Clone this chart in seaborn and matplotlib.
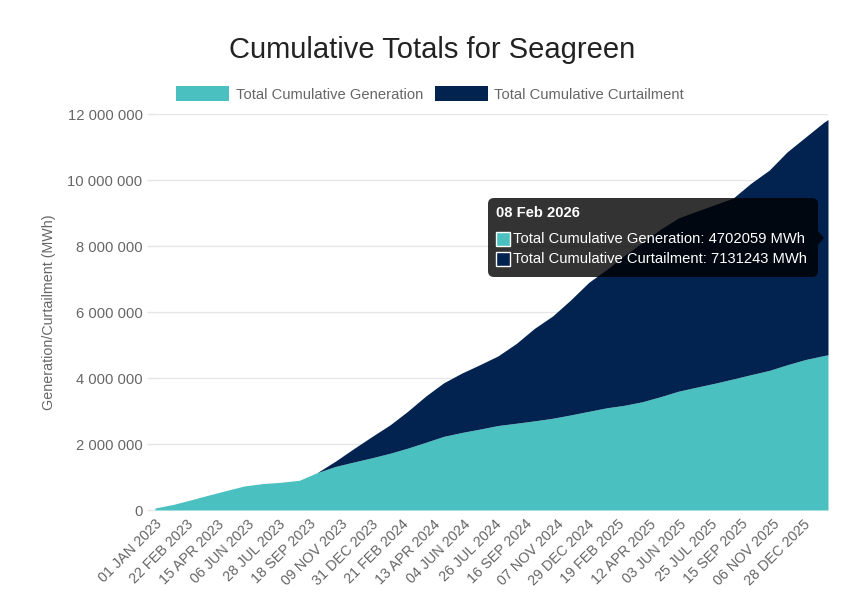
import matplotlib
matplotlib.use("Agg")
import matplotlib.pyplot as plt
import matplotlib.dates as mdates
from matplotlib.patches import FancyBboxPatch, Rectangle, Polygon
from matplotlib.transforms import IdentityTransform
from matplotlib.ticker import FuncFormatter
import seaborn as sns
import pandas as pd
import numpy as np

# ---------------- data ----------------
dates = ["2023-01-01", "2023-02-01", "2023-03-01", "2023-04-01", "2023-05-01", "2023-06-01",
         "2023-07-01", "2023-08-01", "2023-09-01", "2023-10-01", "2023-11-01", "2023-12-01",
         "2024-01-01", "2024-02-01", "2024-03-01", "2024-04-01", "2024-05-01", "2024-06-01",
         "2024-07-01", "2024-08-01", "2024-09-01", "2024-10-01", "2024-11-01", "2024-12-01",
         "2025-01-01", "2025-02-01", "2025-03-01", "2025-04-01", "2025-05-01", "2025-06-01",
         "2025-07-01", "2025-08-01", "2025-09-01", "2025-10-01", "2025-11-01", "2025-12-01",
         "2026-01-01", "2026-02-01", "2026-02-08"]

generation = [60000, 170000, 300000, 450000, 590000, 730000,
              800000, 840000, 900000, 1130000, 1320000, 1450000,
              1580000, 1720000, 1870000, 2050000, 2230000, 2350000,
              2450000, 2560000, 2630000, 2700000, 2780000, 2880000,
              2990000, 3100000, 3170000, 3280000, 3430000, 3600000,
              3720000, 3840000, 3970000, 4100000, 4230000, 4400000,
              4560000, 4680000, 4702059]

curtailment = [0, 0, 0, 0, 0, 0,
               0, 0, 0, 0, 160000, 400000,
               640000, 860000, 1110000, 1400000, 1620000, 1800000,
               1950000, 2110000, 2420000, 2800000, 3100000, 3480000,
               3910000, 4200000, 4530000, 4820000, 5070000, 5250000,
               5330000, 5410000, 5480000, 5800000, 6070000, 6450000,
               6740000, 7070000, 7131243]

series_labels = ["Total Cumulative Generation", "Total Cumulative Curtailment"]
title = "Cumulative Totals for Seagreen"
y_label = "Generation/Curtailment (MWh)"
tick_start = "2023-01-01"
tick_step_days = 52
n_ticks = 22
y_ticks = [0, 2000000, 4000000, 6000000, 8000000, 10000000, 12000000]
tooltip_date = "08 Feb 2026"

TEAL = "#4BC0C0"
NAVY = "#022350"
GREY = "#666666"
GRID = "#e6e6e6"

# ---------------- style ----------------
sns.set_theme(style="white")
plt.rcParams["font.family"] = ["Liberation Sans", "DejaVu Sans"]

W, H = 856, 612
fig = plt.figure(figsize=(W / 100, H / 100), dpi=100)
ax = fig.add_axes([155 / W, 1 - 510 / H, (828 - 155) / W, (510 - 114) / H])

df = pd.DataFrame({"date": pd.to_datetime(dates),
                   "generation": generation,
                   "curtailment": curtailment})
x = mdates.date2num(df["date"])

ax.stackplot(x, df["generation"], df["curtailment"],
             colors=[TEAL, NAVY], labels=series_labels, linewidth=0, zorder=2)

ax.set_xlim(x[0], x[-1])
ax.set_ylim(0, 12000000)

# y axis
ax.set_yticks(y_ticks)
ax.yaxis.set_major_formatter(FuncFormatter(lambda v, p: f"{int(v):,}".replace(",", " ")))
ax.grid(axis="y", color=GRID, linewidth=1, zorder=0)
ax.grid(axis="x", visible=False)
ax.tick_params(axis="y", which="major", left=True, length=6, width=1, color=GRID,
               pad=3, labelsize=10.6, labelcolor=GREY)
ax.set_ylabel(y_label, fontsize=10.3, color=GREY, labelpad=8)

# x axis
tick_dates = pd.date_range(tick_start, periods=n_ticks, freq=f"{tick_step_days}D")
ax.set_xticks(mdates.date2num(tick_dates))
ax.set_xticklabels([d.strftime("%d %b %Y").upper() for d in tick_dates],
                   rotation=45, ha="right", va="top", rotation_mode="anchor")
ax.tick_params(axis="x", bottom=False, length=0, pad=5, labelsize=10.4, labelcolor=GREY)

for s in ax.spines.values():
    s.set_visible(False)

ax.yaxis.set_label_coords(-0.147, 0.5)

# title & legend
fig.text(432 / W, 1 - 50 / H, title, ha="center", va="center",
         fontsize=21, color="#222222")
leg = fig.legend(loc="center", bbox_to_anchor=(430 / W, 1 - 94 / H), ncol=2,
                 frameon=False, fontsize=10.6, handlelength=3.6, handleheight=1.15,
                 handletextpad=0.45, columnspacing=0.8, labelcolor=GREY)

# tooltip (as in the screenshot)
tr = IdentityTransform()
box = FancyBboxPatch((488, H - 277), 330, 79,
                     boxstyle="round,pad=0,rounding_size=6",
                     transform=tr, facecolor=(0, 0, 0, 0.8), edgecolor="none", zorder=10)
fig.add_artist(box)
caret = Polygon([[818, H - 231], [824, H - 238], [818, H - 245]], closed=True,
                transform=tr, facecolor=(0, 0, 0, 0.8), edgecolor="none", zorder=10)
fig.add_artist(caret)
fig.text(496 / W, 1 - 213 / H, tooltip_date, ha="left", va="center",
         fontsize=10.6, fontweight="bold", color="white", zorder=11)
last_vals = [generation[-1], curtailment[-1]]
for i, (lab, val, col) in enumerate(zip(series_labels, last_vals, [TEAL, NAVY])):
    yc = 239 + i * 20
    sq = Rectangle((496, H - yc - 7), 14, 14, transform=tr, facecolor=col,
                   edgecolor="white", linewidth=1, zorder=11)
    fig.add_artist(sq)
    fig.text(513 / W, 1 - yc / H, f"{lab}: {val} MWh", ha="left", va="center",
             fontsize=10.6, color="white", zorder=11)

fig.savefig("out.png", dpi=100, facecolor="white")
